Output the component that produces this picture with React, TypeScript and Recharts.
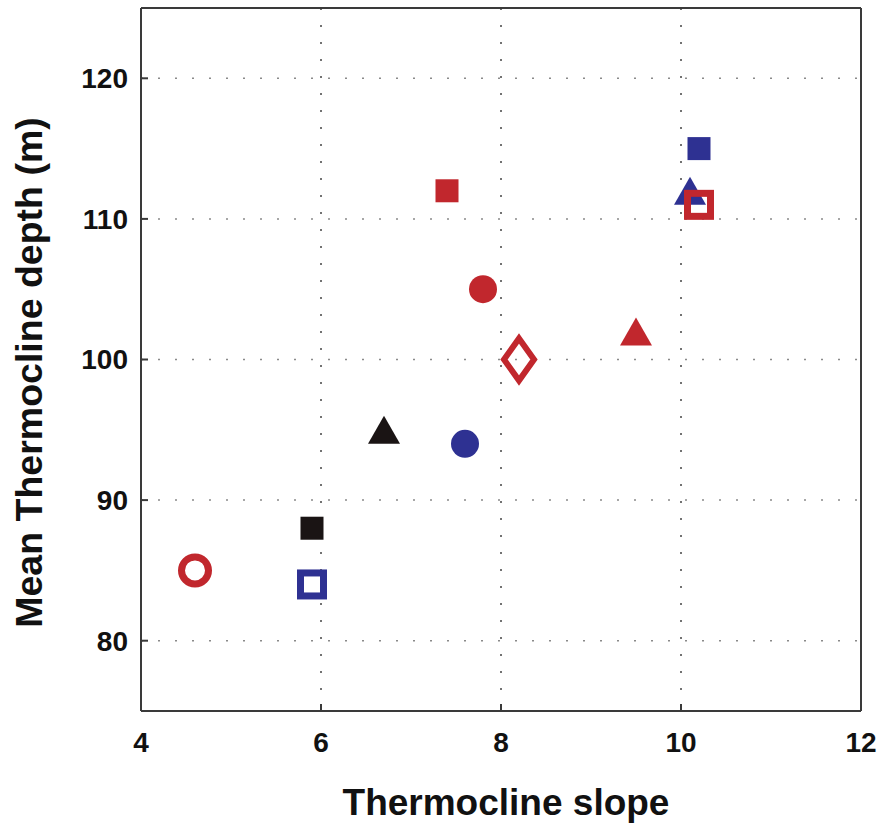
import React from 'react'
import { ScatterChart, Scatter, XAxis, YAxis, CartesianGrid, Label } from 'recharts'

// one entry per marker in the figure
const pointIds = [
  'black-square', 'black-triangle',
  'blue-square', 'blue-triangle', 'blue-circle', 'blue-open-square',
  'red-square', 'red-circle', 'red-triangle', 'red-open-diamond', 'red-open-square', 'red-open-circle',
]
const slopes = [5.9, 6.7, 10.2, 10.1, 7.6, 5.9, 7.4, 7.8, 9.5, 8.2, 10.2, 4.6]
const depths = [88, 95, 115, 112, 94, 84, 112, 105, 102, 100, 111, 85]

const xTicks = [4, 6, 8, 10, 12]
const yTicks = [80, 90, 100, 110, 120]

const RED = '#c1272d'
const BLUE = '#2e3192'
const BLACK = '#1a1414'
const AXIS = '#3a3a3a'
const FONT = '"Liberation Sans", Arial, sans-serif'

type Shape = 'square' | 'circle' | 'triangle' | 'diamond'
interface MarkerStyle { color: string; shape: Shape; filled: boolean }

const markerStyles: MarkerStyle[] = [
  { color: BLACK, shape: 'square', filled: true },
  { color: BLACK, shape: 'triangle', filled: true },
  { color: BLUE, shape: 'square', filled: true },
  { color: BLUE, shape: 'triangle', filled: true },
  { color: BLUE, shape: 'circle', filled: true },
  { color: BLUE, shape: 'square', filled: false },
  { color: RED, shape: 'square', filled: true },
  { color: RED, shape: 'circle', filled: true },
  { color: RED, shape: 'triangle', filled: true },
  { color: RED, shape: 'diamond', filled: false },
  { color: RED, shape: 'square', filled: false },
  { color: RED, shape: 'circle', filled: false },
]

const Marker = ({ cx, cy, st }: { cx: number; cy: number; st: MarkerStyle }) => {
  if (cx == null || cy == null) return null
  const fill = st.filled ? st.color : 'none'
  const sw = st.filled ? 0 : 7
  switch (st.shape) {
    case 'square': {
      const s = st.filled ? 23 : 23
      return <rect x={cx - s / 2} y={cy - s / 2} width={s} height={s} fill={fill} stroke={st.color} strokeWidth={sw} />
    }
    case 'circle': {
      const r = st.filled ? 14 : 13.5
      return <circle cx={cx} cy={cy} r={r} fill={fill} stroke={st.color} strokeWidth={sw} />
    }
    case 'triangle': {
      const w = 16, h = 14
      return <polygon points={`${cx},${cy - h} ${cx + w},${cy + h} ${cx - w},${cy + h}`} fill={fill} />
    }
    case 'diamond': {
      const w = 15, h = 21
      return (
        <polygon
          points={`${cx},${cy - h} ${cx + w},${cy} ${cx},${cy + h} ${cx - w},${cy}`}
          fill="none"
          stroke={st.color}
          strokeWidth={6}
          strokeLinejoin="miter"
        />
      )
    }
  }
  return null
}

const XTitle = ({ viewBox }: any) => {
  const { x, y, width, height } = viewBox
  return (
    <text x={x + width / 2 + 5} y={y + height - 9} textAnchor="middle"
      fontFamily={FONT} fontWeight="bold" fontSize={37} fill="#111">
      Thermocline slope
    </text>
  )
}

const YTitle = ({ viewBox }: any) => {
  const { x, y, height } = viewBox
  const bx = x + 42
  const by = y + height / 2 + 13
  return (
    <text x={bx} y={by} transform={`rotate(-90 ${bx} ${by})`} textAnchor="middle"
      fontFamily={FONT} fontWeight="bold" fontSize={37.5} fill="#111">
      Mean Thermocline depth (m)
    </text>
  )
}

const tickStyle = { fontSize: 28, fontWeight: 'bold', fill: '#111', fontFamily: FONT }
const lineStyle = { stroke: AXIS, strokeWidth: 2 }

export default function App() {
  return (
    <div style={{ position: 'absolute', left: 0, top: 0, background: '#fff' }}>
      <ScatterChart width={883} height={824} margin={{ top: 0, right: 0, bottom: 0, left: 0 }}>
        <CartesianGrid vertical={false} stroke="#8a8a8a" strokeDasharray="2 15" strokeWidth={1.5} />
        <CartesianGrid horizontal={false} stroke="#444" strokeDasharray="2 15" strokeWidth={1.5} />
        <XAxis
          dataKey="x" type="number" domain={[4, 12]} ticks={xTicks} interval={0}
          height={113} tickSize={-7} tickMargin={28}
          axisLine={lineStyle} tickLine={lineStyle} tick={tickStyle} allowDataOverflow
        >
          <Label content={XTitle} />
        </XAxis>
        <XAxis
          xAxisId="top" orientation="top" type="number" domain={[4, 12]} ticks={xTicks} interval={0}
          height={8} tickSize={-7} tick={false}
          axisLine={lineStyle} tickLine={lineStyle} allowDataOverflow
        />
        <YAxis
          dataKey="y" type="number" domain={[75, 125]} ticks={yTicks} interval={0}
          width={141} tickSize={-7} tickMargin={20}
          axisLine={lineStyle} tickLine={lineStyle} tick={tickStyle} allowDataOverflow
        >
          <Label content={YTitle} />
        </YAxis>
        <YAxis
          yAxisId="right" orientation="right" type="number" domain={[75, 125]} ticks={yTicks} interval={0}
          width={22} tickSize={-7} tick={false}
          axisLine={lineStyle} tickLine={lineStyle} allowDataOverflow
        />
        {pointIds.map((id, i) => (
          <Scatter
            key={id}
            name={id}
            data={[{ x: slopes[i], y: depths[i] }]}
            isAnimationActive={false}
            shape={(p: any) => <Marker cx={p.cx} cy={p.cy} st={markerStyles[i]} />}
          />
        ))}
      </ScatterChart>
    </div>
  )
}
